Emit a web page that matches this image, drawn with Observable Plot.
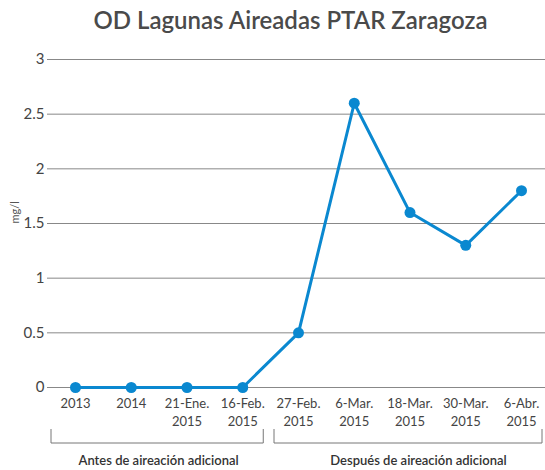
<!DOCTYPE html>
<html>
<head>
<meta charset="utf-8">
<script src="https://cdn.jsdelivr.net/npm/d3@7"></script>
<script src="https://cdn.jsdelivr.net/npm/@observablehq/plot@0.6"></script>
<style>
  html, body { margin: 0; padding: 0; background: #fff; }
  #title { height: 44px; box-sizing: border-box; padding-top: 6px; padding-left: 36px; width: 545px;
    text-align: center; font-family: Lato, sans-serif; font-size: 24px; font-weight: 600; color: #4a4a4a; line-height: 28px; }
  #chart svg { display: block; }
</style>
</head>
<body>
<div id="title">OD Lagunas Aireadas PTAR Zaragoza</div>
<div id="chart"></div>
<script>
const categories = ["2013", "2014", "21-Ene.\n2015", "16-Feb.\n2015", "27-Feb.\n2015", "6-Mar.\n2015", "18-Mar.\n2015", "30-Mar.\n2015", "6-Abr.\n2015"];
const values = [0, 0, 0, 0, 0.5, 2.6, 1.6, 1.3, 1.8];
const yTicks = [0, 0.5, 1, 1.5, 2, 2.5, 3];
const yLabel = "mg/l";
const groupLabels = ["Antes de aireación adicional", "Después de aireación adicional"];
const groupStart = [0, 4];
const groupEnd = [3, 8];

const data = categories.map((c, i) => ({cat: c, v: values[i]}));
const color = "#0a88d0";

const plot = Plot.plot({
  width: 545,
  height: 426,
  marginTop: 15,
  marginLeft: 47,
  marginRight: 0,
  marginBottom: 83,
  style: {fontFamily: "Lato, sans-serif", background: "#fff", overflow: "visible"},
  x: {type: "point", domain: categories, range: [75, 521], padding: 0, round: false},
  y: {domain: [0, 3]},
  marks: [
    Plot.ruleY(yTicks, {stroke: "#888", strokeWidth: 1}),
    Plot.axisY({ticks: yTicks, tickSize: 0, tickPadding: 3, fontSize: 15, color: "#444", label: null, tickFormat: d => String(d)}),
    Plot.axisX({tickSize: 0, tickPadding: 8, fontSize: 13, color: "#444", label: null, lineHeight: 1.38}),
    Plot.text([yLabel], {frameAnchor: "left", rotate: -90, dx: -32, fontSize: 11, fill: "#555"}),
    Plot.line(data, {x: "cat", y: "v", stroke: color, strokeWidth: 3}),
    Plot.dot(data, {x: "cat", y: "v", r: 5.5, fill: color})
  ]
});
document.getElementById("chart").appendChild(plot);

// Group brackets positioned from the plot's own x scale
const xs = plot.scale("x");
const svg = d3.select(plot);
const yTop = 385, yBar = 399, yText = 416;
groupLabels.forEach((lab, i) => {
  const a = xs.apply(categories[groupStart[i]]);
  const b = xs.apply(categories[groupEnd[i]]);
  const x1 = a - 24;
  const x2 = b + 21;
  const xm = i === 0 ? (a + b) / 2 : (a + b) / 2 + 9;
  svg.append("path")
    .attr("d", `M${x1},${yTop}V${yBar}H${x2}V${yTop}`)
    .attr("fill", "none").attr("stroke", "#777").attr("stroke-width", 1);
  svg.append("text")
    .attr("x", xm).attr("y", yText).attr("dy", "0.35em")
    .attr("text-anchor", "middle")
    .attr("font-size", 13).attr("font-weight", 600).attr("fill", "#333")
    .text(lab);
});
</script>
</body>
</html>
